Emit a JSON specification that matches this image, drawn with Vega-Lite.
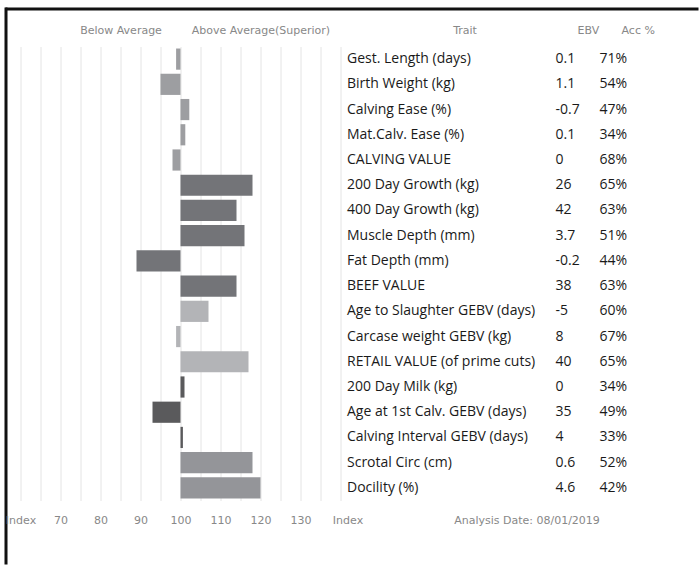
{
  "$schema": "https://vega.github.io/schema/vega-lite/v6.json",
  "padding": {"left": 4, "top": 7, "right": 0, "bottom": 0},
  "background": "white",
  "config": {"view": {"stroke": null}, "font": "DejaVu Sans"},
  "datasets": {
    "traits": [
      {"trait": "Gest. Length (days)", "ebv": 0.1, "acc": 0.71, "index": 98.9, "group": "calving"},
      {"trait": "Birth Weight (kg)", "ebv": 1.1, "acc": 0.54, "index": 95, "group": "calving"},
      {"trait": "Calving Ease (%)", "ebv": -0.7, "acc": 0.47, "index": 102.2, "group": "calving"},
      {"trait": "Mat.Calv. Ease (%)", "ebv": 0.1, "acc": 0.34, "index": 101.2, "group": "calving"},
      {"trait": "CALVING VALUE", "ebv": 0, "acc": 0.68, "index": 98, "group": "calving"},
      {"trait": "200 Day Growth (kg)", "ebv": 26, "acc": 0.65, "index": 118, "group": "beef"},
      {"trait": "400 Day Growth (kg)", "ebv": 42, "acc": 0.63, "index": 114, "group": "beef"},
      {"trait": "Muscle Depth (mm)", "ebv": 3.7, "acc": 0.51, "index": 116, "group": "beef"},
      {"trait": "Fat Depth (mm)", "ebv": -0.2, "acc": 0.44, "index": 89, "group": "beef"},
      {"trait": "BEEF VALUE", "ebv": 38, "acc": 0.63, "index": 114, "group": "beef"},
      {"trait": "Age to Slaughter GEBV (days)", "ebv": -5, "acc": 0.6, "index": 107, "group": "retail"},
      {"trait": "Carcase weight GEBV (kg)", "ebv": 8, "acc": 0.67, "index": 98.9, "group": "retail"},
      {"trait": "RETAIL VALUE (of prime cuts)", "ebv": 40, "acc": 0.65, "index": 117, "group": "retail"},
      {"trait": "200 Day Milk (kg)", "ebv": 0, "acc": 0.34, "index": 101, "group": "maternal"},
      {"trait": "Age at 1st Calv. GEBV (days)", "ebv": 35, "acc": 0.49, "index": 93, "group": "maternal"},
      {"trait": "Calving Interval GEBV (days)", "ebv": 4, "acc": 0.33, "index": 100.6, "group": "maternal"},
      {"trait": "Scrotal Circ (cm)", "ebv": 0.6, "acc": 0.52, "index": 118, "group": "other"},
      {"trait": "Docility (%)", "ebv": 4.6, "acc": 0.42, "index": 120, "group": "other"}
    ]
  },
  "bounds": "flush",
  "spacing": 0,
  "hconcat": [
    {
      "width": 0.01,
      "height": 554,
      "data": {"values": []},
      "mark": "point",
      "view": {"stroke": "#111111", "strokeWidth": 3}
    },
    {
      "bounds": "flush",
      "spacing": 36.5,
      "vconcat": [
        {
          "width": 690,
          "height": 0.01,
          "data": {"values": []},
          "mark": "point",
          "view": {"stroke": "#111111", "strokeWidth": 3}
        },
        {
          "bounds": "flush",
          "spacing": 12.5,
          "hconcat": [
            {"width": 0.01, "height": 454, "data": {"values": []}, "mark": "point"},
            {
              "bounds": "flush",
              "spacing": 215,
              "hconcat": [
                {
                  "data": {"name": "traits"},
                  "width": 320,
                  "height": 454,
                  "resolve": {"axis": {"x": "independent"}},
                  "layer": [
                    {
                      "mark": {"type": "rule", "opacity": 0},
                      "encoding": {
                        "x": {
                          "datum": 100,
                          "type": "quantitative",
                          "scale": {"domain": [60, 140], "nice": false, "zero": false},
                          "axis": {
                            "orient": "top",
                            "values": [85, 120],
                            "labelExpr": "datum.value < 100 ? 'Below Average' : 'Above Average(Superior)'",
                            "ticks": false,
                            "domain": false,
                            "grid": false,
                            "labelPadding": 16.5,
                            "labelBaseline": "middle",
                            "labelFont": "DejaVu Sans",
                            "labelFontSize": 11,
                            "labelColor": "#888888",
                            "labelOverlap": false,
                            "labelBound": false,
                            "title": null
                          }
                        }
                      }
                    },
                    {
                      "mark": {"type": "bar"},
                      "encoding": {
                        "y": {
                          "field": "trait",
                          "type": "nominal",
                          "sort": null,
                          "scale": {"paddingInner": 0.16, "paddingOuter": 0.08},
                          "axis": {
                            "orient": "right",
                            "title": "Trait",
                            "titleAngle": 0,
                            "titleX": 124,
                            "titleY": -16.5,
                            "titleAlign": "center",
                            "titleBaseline": "middle",
                            "titleFont": "DejaVu Sans",
                            "titleFontSize": 11,
                            "titleFontWeight": "normal",
                            "titleColor": "#888888",
                            "labelFont": "Open Sans",
                            "labelFontSize": 14,
                            "labelColor": "#1a1a1a",
                            "labelPadding": 6,
                            "labelLimit": 300,
                            "ticks": false,
                            "domain": false,
                            "grid": false
                          }
                        },
                        "x": {
                          "field": "index",
                          "type": "quantitative",
                          "scale": {"domain": [60, 140], "nice": false, "zero": false},
                          "axis": {
                            "orient": "bottom",
                            "values": [60, 65, 70, 75, 80, 85, 90, 95, 100, 105, 110, 115, 120, 125, 130, 135, 140],
                            "grid": true,
                            "gridColor": "#e4e4e4",
                            "gridWidth": 1,
                            "ticks": false,
                            "domain": false,
                            "labelExpr": "datum.value == 60 || datum.value == 140 ? 'Index' : (datum.value % 10 == 0 ? datum.label : '')",
                            "labelOffset": {"condition": {"test": "datum.value == 140", "value": 7}, "value": 0},
                            "labelFont": "DejaVu Sans",
                            "labelFontSize": 11,
                            "labelColor": "#888888",
                            "labelPadding": 19.5,
                            "labelBaseline": "middle",
                            "labelOverlap": false,
                            "labelBound": false,
                            "labelFlush": false,
                            "title": "Analysis Date: 08/01/2019",
                            "titleX": 506,
                            "titleY": 20,
                            "titleAlign": "center",
                            "titleBaseline": "middle",
                            "titleFont": "DejaVu Sans",
                            "titleFontSize": 11,
                            "titleFontWeight": "normal",
                            "titleColor": "#888888"
                          }
                        },
                        "x2": {"datum": 100},
                        "color": {
                          "field": "group",
                          "type": "nominal",
                          "scale": {
                            "domain": ["calving", "beef", "retail", "maternal", "other"],
                            "range": ["#9d9ea1", "#737478", "#b3b4b7", "#5a5a5c", "#949599"]
                          },
                          "legend": null
                        }
                      }
                    }
                  ]
                },
                {
                  "data": {"name": "traits"},
                  "width": 88,
                  "height": 454,
                  "encoding": {
                    "y": {
                      "field": "trait",
                      "type": "nominal",
                      "sort": null,
                      "scale": {"paddingInner": 0.16, "paddingOuter": 0.08},
                      "axis": null
                    }
                  },
                  "layer": [
                    {
                      "mark": {"type": "text", "align": "left", "font": "Open Sans", "fontSize": 14, "color": "#1a1a1a"},
                      "encoding": {
                        "x": {
                          "datum": "EBV",
                          "type": "nominal",
                          "bandPosition": 0,
                          "scale": {"type": "band", "domain": ["EBV", "Acc %"], "paddingInner": 0, "paddingOuter": 0},
                          "axis": {
                            "orient": "top",
                            "bandPosition": 0,
                            "labelAlign": "left",
                            "labelAngle": 0,
                            "labelBaseline": "middle",
                            "labelPadding": 16.5,
                            "labelFont": "DejaVu Sans",
                            "labelFontSize": 11,
                            "labelColor": "#888888",
                            "ticks": false,
                            "domain": false,
                            "grid": false,
                            "title": null
                          }
                        },
                        "text": {"field": "ebv", "type": "nominal"}
                      }
                    },
                    {
                      "mark": {"type": "text", "align": "left", "font": "Open Sans", "fontSize": 14, "color": "#1a1a1a"},
                      "encoding": {
                        "x": {"datum": "Acc %", "type": "nominal", "bandPosition": 0},
                        "text": {"field": "acc", "type": "quantitative", "format": ".0%"}
                      }
                    }
                  ]
                }
              ]
            }
          ]
        }
      ]
    }
  ]
}
